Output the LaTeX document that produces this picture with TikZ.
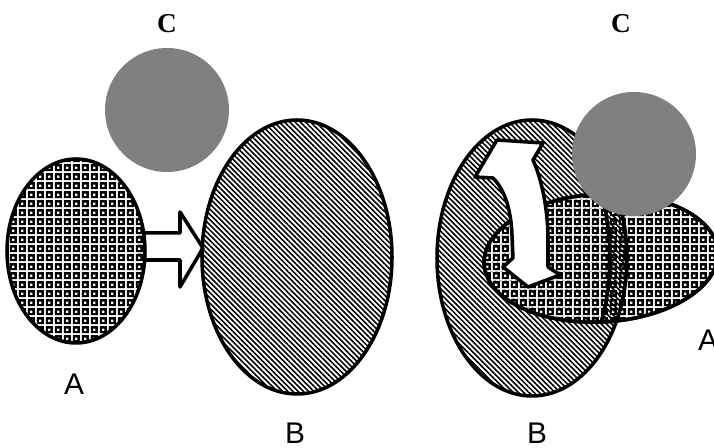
\documentclass[tikz,border=0pt]{standalone}
\usepackage{fontspec}
\setmainfont{Liberation Serif}
\newfontfamily\sansletter{Liberation Sans}
\usetikzlibrary{patterns.meta}

\definecolor{discgray}{RGB}{128,128,128}

% small black squares with a white dot, on a white grid
\tikzdeclarepattern{
    name=meshcells,
    type=colored,
    bounding box={(0pt,0pt) and (5pt,5pt)},
    tile size={(5pt,5pt)},
    code={
        \fill[white] (0pt,0pt) rectangle (5pt,5pt);
        \fill[black] (0.45pt,0.45pt) rectangle (4.55pt,4.55pt);
        \fill[white] (1.85pt,1.85pt) rectangle (3.15pt,3.15pt);
    }
}

\begin{document}
\begin{tikzpicture}[x=0.02cm, y=-0.02cm, line join=round,
    blob/.style={draw=black, line width=2pt},
    hatch fill/.style={pattern={Lines[angle=-45,distance=2.1pt,line width=0.9pt]}},
    mesh fill/.style={pattern=meshcells},
    disc/.style={fill=discgray},
    letter/.style={font=\sansletter\fontsize{17}{17}\selectfont, anchor=base},
    bold letter/.style={font=\bfseries\fontsize{15.5}{15.5}\selectfont, anchor=base}
]

\useasboundingbox (0,0) rectangle (714,448);
\fill[white] (0,0) rectangle (714,448);

% Centres of the blobs
\coordinate (A1) at (76,251);
\coordinate (B1) at (297,257);
\coordinate (B2) at (532,258);
\coordinate (A2) at (601,258);

% Centres of the grey discs
\coordinate (C1) at (167,110);
\coordinate (C2) at (634,154);

% --- Left pair: A pushes into B ---
\draw[blob, fill=white] (140,233) -- (180,233) -- (180,212) -- (203,248)
    -- (180,287) -- (180,260) -- (140,260) -- cycle;

\draw[blob, mesh fill] (A1) ellipse [x radius=69, y radius=92];
\draw[blob, hatch fill] (B1) ellipse [x radius=95, y radius=137];

% --- Right pair: A inside B ---
\draw[blob, hatch fill] (B2) ellipse [x radius=95, y radius=138];
\draw[blob, mesh fill, rotate around={3:(A2)}] (A2) ellipse [x radius=117, y radius=64];

% rim of B seen across A
\begin{scope}
    \clip[rotate around={3:(A2)}] (A2) ellipse [x radius=117, y radius=64];
    \fill[hatch fill, even odd rule] (B2) ellipse [x radius=95, y radius=138]
        (B2) ellipse [x radius=78, y radius=138];
    \draw[blob] (B2) ellipse [x radius=95, y radius=138];
    \draw[blob] (B2) ellipse [x radius=78, y radius=138];
\end{scope}
\draw[blob, rotate around={3:(A2)}] (A2) ellipse [x radius=117, y radius=64];

% curved two-headed arrow
\draw[blob, fill=white] (497,140) -- (543,143) -- (533,160)
    .. controls (542,180) and (548,210) .. (548,240) -- (548,267)
    -- (560,275) -- (528,287) -- (503,267) -- (513,258) -- (512,235)
    .. controls (511,210) and (505,190) .. (493,178) -- (475,177) -- cycle;

% grey discs
\fill[disc] (C1) circle [radius=62];
\fill[disc] (C2) circle [radius=62];

% --- Labels ---
\node[letter] (labA1) at (74,395) {A};
\node[letter] (labA2) at (708,351) {A};
\node[letter] (labB1) at (295,444) {B};
\node[letter] (labB2) at (537,444) {B};
\node[bold letter] (labC1) at (167,33) {C};
\node[bold letter] (labC2) at (621,33) {C};

\end{tikzpicture}
\end{document}
